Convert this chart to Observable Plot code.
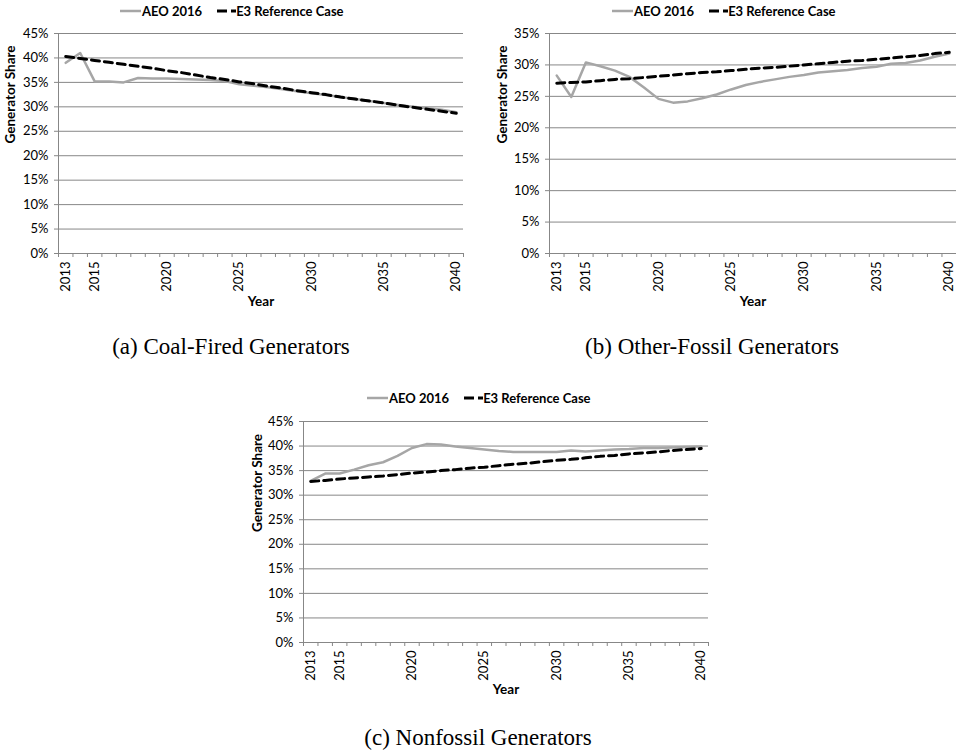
<!DOCTYPE html>
<html>
<head>
<meta charset="utf-8">
<script src="https://cdn.jsdelivr.net/npm/d3@7"></script>
<script src="https://cdn.jsdelivr.net/npm/@observablehq/plot@0.6"></script>
<style>
  html, body { margin: 0; padding: 0; background: #fff; }
  #root { position: relative; width: 956px; height: 750px; background: #fff; overflow: hidden; }
  .legend { position: absolute; display: flex; align-items: center; font-family: Lato, "Open Sans", sans-serif; font-weight: bold; font-size: 13px; color: #000; white-space: nowrap; }
  .legend svg { display: block; }
  .caption { position: absolute; font-family: "Liberation Serif", "DejaVu Serif", serif; font-size: 23px; color: #000; white-space: nowrap; transform: translate(-50%, -50%); }
</style>
</head>
<body>
<div id="root"></div>
<script>
// ---------------- data ----------------
const years = [2013,2014,2015,2016,2017,2018,2019,2020,2021,2022,2023,2024,2025,2026,2027,2028,2029,2030,2031,2032,2033,2034,2035,2036,2037,2038,2039,2040];
const yearTickLabels = [2013, 2015, 2020, 2025, 2030, 2035, 2040];
const seriesNames = ["AEO 2016", "E3 Reference Case"];

// (a) Coal-Fired Generators, share in %
const coalAEO = [39.0,41.0,35.2,35.2,35.0,35.9,35.8,35.8,35.7,35.6,35.5,35.3,34.6,34.3,34.0,33.6,33.2,32.8,32.4,32.0,31.6,31.2,30.8,30.4,30.0,29.7,29.4,28.9];
const coalE3  = [40.3,39.9,39.5,39.1,38.7,38.3,37.9,37.4,37.0,36.5,36.0,35.6,35.1,34.7,34.2,33.8,33.3,32.9,32.5,32.0,31.6,31.2,30.8,30.3,29.9,29.5,29.1,28.7];
const coalTicks = [0,5,10,15,20,25,30,35,40,45];

// (b) Other-Fossil Generators
const fossilAEO = [28.3,24.9,30.4,29.8,29.1,28.1,26.4,24.6,24.0,24.2,24.7,25.3,26.1,26.8,27.3,27.7,28.1,28.4,28.8,29.0,29.2,29.5,29.7,30.2,30.3,30.7,31.3,31.8];
const fossilE3  = [27.1,27.2,27.3,27.5,27.7,27.8,28.0,28.2,28.4,28.6,28.8,28.9,29.1,29.3,29.5,29.6,29.8,30.0,30.2,30.4,30.6,30.7,30.9,31.1,31.3,31.5,31.8,32.0];
const fossilTicks = [0,5,10,15,20,25,30,35];

// (c) Nonfossil Generators
const nonfossilAEO = [32.9,34.4,34.4,35.2,36.1,36.7,38.0,39.6,40.4,40.3,39.9,39.6,39.3,39.0,38.8,38.8,38.8,38.8,39.1,38.9,39.1,39.3,39.4,39.6,39.6,39.7,39.8,39.9];
const nonfossilE3  = [32.8,33.0,33.3,33.5,33.7,33.9,34.2,34.5,34.7,35.0,35.2,35.5,35.7,36.0,36.3,36.5,36.8,37.1,37.3,37.6,37.9,38.1,38.4,38.6,38.8,39.1,39.3,39.5];
const nonfossilTicks = [0,5,10,15,20,25,30,35,40,45];

const captions = ["(a) Coal-Fired Generators", "(b) Other-Fossil Generators", "(c) Nonfossil Generators"];

// ---------------- style ----------------
const GREY_LINE = "#a6a6a6";
const GRID = "#878787";
const FONT = "Lato, 'Open Sans', sans-serif";

const root = document.getElementById("root");

function panel(cfg) {
  const data = years.map((yr, i) => ({year: yr, aeo: cfg.aeo[i], e3: cfg.e3[i]}));
  const bounds = years.concat([years[years.length - 1] + 1]).map(y => y - 0.5);
  const ymax = cfg.ticks[cfg.ticks.length - 1];
  const chart = Plot.plot({
    width: cfg.width,
    height: cfg.height,
    marginLeft: cfg.ml,
    marginRight: cfg.mr,
    marginTop: cfg.mt,
    marginBottom: cfg.mb,
    style: {fontFamily: FONT, fontSize: "13px", color: "#000", background: "transparent", overflow: "visible"},
    x: {domain: [bounds[0], bounds[bounds.length - 1]], axis: null},
    y: {domain: [0, ymax], axis: null},
    marks: [
      Plot.gridY(cfg.ticks, {stroke: GRID, strokeOpacity: 1, strokeWidth: 1}),
      Plot.ruleX([bounds[0]], {stroke: GRID, strokeWidth: 1}),
      Plot.axisY(cfg.ticks, {tickSize: 4, tickPadding: 6, stroke: GRID, strokeOpacity: 1, tickFormat: d => d + "%", fontSize: 13, fill: "#000", label: null}),
      Plot.axisX(bounds, {tickSize: 4, stroke: GRID, strokeOpacity: 1, tickFormat: () => "", label: null}),
      Plot.axisX(yearTickLabels, {tickSize: 0, tickPadding: 8, tickRotate: -90, tickFormat: d => String(d), fontSize: 13, fill: "#000", label: null}),
      Plot.text(["Year"], {frameAnchor: "bottom", dy: cfg.yearDy, fontWeight: "bold", fontSize: 13.5, fill: "#000"}),
      Plot.text(["Generator Share"], {frameAnchor: "left", rotate: -90, dx: cfg.shareDx, fontWeight: "bold", fontSize: 13.5, fill: "#000"}),
      Plot.line(data, {x: "year", y: "aeo", stroke: GREY_LINE, strokeWidth: 2.5}),
      Plot.line(data, {x: "year", y: "e3", stroke: "#000", strokeWidth: 3, strokeDasharray: "8,5"})
    ]
  });
  chart.style.position = "absolute";
  chart.style.left = cfg.left + "px";
  chart.style.top = cfg.top + "px";
  root.appendChild(chart);

  // legend
  const lg = document.createElement("div");
  lg.className = "legend";
  lg.style.left = cfg.legendLeft + "px";
  lg.style.top = cfg.legendTop + "px";
  lg.innerHTML =
    `<svg width="21" height="6"><line x1="0" y1="3" x2="21" y2="3" stroke="${GREY_LINE}" stroke-width="2.5"/></svg>` +
    `<span style="margin-left:1px">${seriesNames[0]}</span>` +
    `<svg width="19" height="6" style="margin-left:15px"><line x1="0" y1="3" x2="19" y2="3" stroke="#000" stroke-width="3" stroke-dasharray="10,4"/></svg>` +
    `<span>${seriesNames[1]}</span>`;
  root.appendChild(lg);

  // caption
  const cap = document.createElement("div");
  cap.className = "caption";
  cap.style.left = cfg.capX + "px";
  cap.style.top = cfg.capY + "px";
  cap.textContent = cfg.caption;
  root.appendChild(cap);
}

panel({
  left: 0, top: 20, width: 470, height: 295,
  ml: 58, mr: 7, mt: 13, mb: 62,
  ticks: coalTicks, aeo: coalAEO, e3: coalE3,
  yearDy: 52, shareDx: -48,
  legendLeft: 120, legendTop: 3,
  caption: captions[0], capX: 231, capY: 347
});

panel({
  left: 480, top: 20, width: 476, height: 295,
  ml: 69, mr: 0, mt: 13, mb: 62,
  ticks: fossilTicks, aeo: fossilAEO, e3: fossilE3,
  yearDy: 52, shareDx: -47,
  legendLeft: 612, legendTop: 3,
  caption: captions[1], capX: 712, capY: 347
});

panel({
  left: 240, top: 408, width: 470, height: 295,
  ml: 63, mr: 2, mt: 13, mb: 61,
  ticks: nonfossilTicks, aeo: nonfossilAEO, e3: nonfossilE3,
  yearDy: 51, shareDx: -46,
  legendLeft: 367, legendTop: 390,
  caption: captions[2], capX: 478, capY: 738
});
</script>
</body>
</html>
